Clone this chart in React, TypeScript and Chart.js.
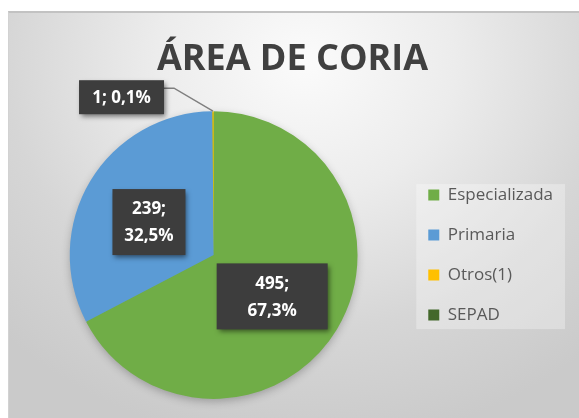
import React, { useEffect, useRef } from "react";
import { Chart, registerables } from "chart.js";

Chart.register(...registerables);

const titleText = "ÁREA DE CORIA";
const categories = ["Especializada", "Primaria", "Otros(1)", "SEPAD"];
const values = [495, 239, 1, 0];
const colors = ["#70ad47", "#5b9bd5", "#ffc000", "#43682b"];

const FONT = "'Open Sans', 'Noto Sans', sans-serif";

const pieShadow = {
  id: "pieShadow",
  beforeDatasetsDraw(chart: any) {
    const meta = chart.getDatasetMeta(0);
    const arc = meta.data[0];
    if (!arc) return;
    const { x, y, outerRadius } = arc.getProps(["x", "y", "outerRadius"], true);
    const ctx = chart.ctx;
    ctx.save();
    ctx.shadowColor = "rgba(0,0,0,0.28)";
    ctx.shadowBlur = 10;
    ctx.shadowOffsetY = 3;
    ctx.beginPath();
    ctx.arc(x, y, outerRadius - 1, 0, Math.PI * 2);
    ctx.fillStyle = "#70ad47";
    ctx.fill();
    ctx.restore();
  },
};

const legendBg = {
  id: "legendBg",
  beforeDraw(chart: any) {
    const lg = chart.legend;
    if (!lg || !lg.legendHitBoxes || !lg.legendHitBoxes.length) return;
    const hb = lg.legendHitBoxes;
    const left = Math.min(...hb.map((h: any) => h.left)) - 12;
    const right = Math.max(...hb.map((h: any) => h.left + h.width)) + 12;
    const first = hb[0];
    const last = hb[hb.length - 1];
    const top = first.top + first.height / 2 - 11;
    const bottom = last.top + last.height / 2 + 14;
    const ctx = chart.ctx;
    ctx.save();
    ctx.fillStyle = "rgba(255,255,255,0.3)";
    ctx.fillRect(left, top, right - left, bottom - top);
    ctx.restore();
  },
};

const boxWidths = [111, 73, 85, 0];

const dataLabels = {
  id: "dataLabels",
  afterDatasetsDraw(chart: any) {
    const ctx = chart.ctx;
    const meta = chart.getDatasetMeta(0);
    const total = values.reduce((a, b) => a + b, 0);
    meta.data.forEach((arc: any, i: number) => {
      const v = values[i];
      if (!v) return;
      const pct = ((v / total) * 100).toFixed(1).replace(".", ",") + "%";
      const { x, y, startAngle, endAngle, outerRadius } = arc.getProps(
        ["x", "y", "startAngle", "endAngle", "outerRadius"],
        true
      );
      const mid = (startAngle + endAngle) / 2;
      ctx.save();
      ctx.font = `bold 17px ${FONT}`;
      const inside = v / total > 0.05;
      const lines = inside ? [`${v};`, pct] : [`${v}; ${pct}`];
      const lh = 27;
      const tw = Math.max(...lines.map((l) => ctx.measureText(l).width));
      const bw = Math.max(tw + 22, boxWidths[i] || 0);
      const bh = lines.length * lh + (lines.length > 1 ? 12 : 7);
      let cx: number, cy: number;
      if (inside) {
        const p = arc.tooltipPosition(true);
        cx = p.x - 3;
        cy = p.y + 4;
      } else {
        const ax = x + Math.cos(mid) * outerRadius;
        const ay = y + Math.sin(mid) * outerRadius;
        const ex = ax - 39;
        const ey = ay - 23;
        ctx.strokeStyle = "#7f7f7f";
        ctx.lineWidth = 1.5;
        ctx.beginPath();
        ctx.moveTo(ax, ay);
        ctx.lineTo(ex, ey);
        ctx.lineTo(ex - 10, ey);
        ctx.stroke();
        cx = ex - 10 - bw / 2;
        cy = ey - 8 + bh / 2;
      }
      ctx.shadowColor = "rgba(0,0,0,0.5)";
      ctx.shadowBlur = 5;
      ctx.shadowOffsetX = 2;
      ctx.shadowOffsetY = 3;
      ctx.fillStyle = "#3d3d3d";
      ctx.fillRect(cx - bw / 2, cy - bh / 2, bw, bh);
      ctx.shadowColor = "transparent";
      ctx.fillStyle = "#ffffff";
      ctx.textAlign = "center";
      ctx.textBaseline = "middle";
      lines.forEach((l, k) => {
        ctx.fillText(l, cx, cy + (k - (lines.length - 1) / 2) * lh + 1);
      });
      ctx.restore();
    });
  },
};

export default function App() {
  const ref = useRef<HTMLCanvasElement | null>(null);
  useEffect(() => {
    if (!ref.current) return;
    const chart = new Chart(ref.current, {
      type: "pie",
      data: {
        labels: categories,
        datasets: [
          {
            data: values,
            backgroundColor: colors,
            borderWidth: 0,
            hoverOffset: 0,
            offset: 0,
          },
        ],
      },
      options: {
        responsive: false,
        animation: false,
        layout: { padding: { left: 13, right: 14, top: 0, bottom: 19 } },
        plugins: {
          title: {
            display: true,
            text: titleText,
            color: "#404040",
            font: { family: FONT, size: 36, weight: "bold", lineHeight: 1.2 },
            padding: { top: 25, bottom: 30 },
          },
          legend: {
            position: "right",
            fullSize: false,
            labels: {
              boxWidth: 11,
              boxHeight: 11,
              padding: 23,
              color: "#595959",
              font: { family: FONT, size: 17 },
            },
          },
          tooltip: { enabled: false },
        },
      },
      plugins: [pieShadow, legendBg, dataLabels],
    });
    return () => chart.destroy();
  }, []);
  return (
    <div
      style={{
        position: "fixed",
        left: 8,
        top: 11,
        width: 571,
        height: 407,
        boxSizing: "border-box",
        borderTop: "2px solid #c2c2c2",
        borderLeft: "1px solid #d2d2d2",
        background:
          "radial-gradient(ellipse 75% 95% at 52% 12%, #fbfbfb 0%, #ececec 35%, #d6d6d6 70%, #cacaca 100%)",
      }}
    >
      <canvas ref={ref} width={568} height={405} style={{ display: "block" }} />
    </div>
  );
}
